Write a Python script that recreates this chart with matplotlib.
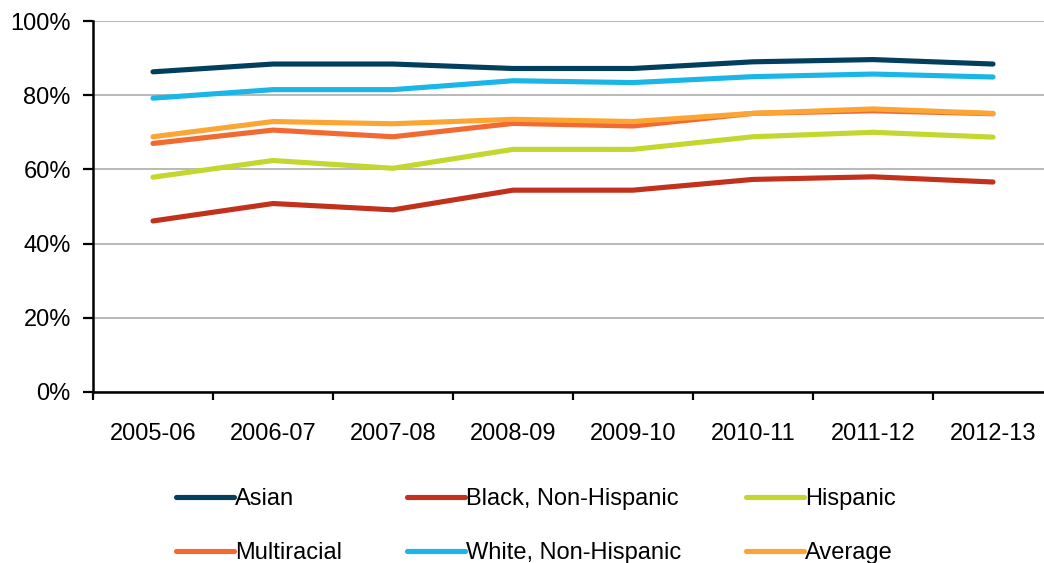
import matplotlib
matplotlib.use("Agg")
import matplotlib.pyplot as plt
from matplotlib.ticker import FixedLocator, FuncFormatter

years = ["2005-06", "2006-07", "2007-08", "2008-09", "2009-10", "2010-11", "2011-12", "2012-13"]
asian = [86.3, 88.4, 88.4, 87.2, 87.2, 89.0, 89.6, 88.4]
black = [46.1, 50.8, 49.1, 54.4, 54.4, 57.3, 58.0, 56.6]
hispanic = [57.9, 62.4, 60.3, 65.4, 65.4, 68.8, 70.0, 68.7]
multiracial = [67.0, 70.6, 68.8, 72.4, 71.7, 75.1, 75.8, 75.0]
white = [79.2, 81.5, 81.5, 83.9, 83.4, 85.0, 85.7, 84.9]
average = [68.8, 72.9, 72.3, 73.5, 72.9, 75.1, 76.3, 75.1]

series = [
    ("Asian", asian, "#023f5e"),
    ("Black, Non-Hispanic", black, "#c2311b"),
    ("Hispanic", hispanic, "#c3d72f"),
    ("Multiracial", multiracial, "#f26932"),
    ("White, Non-Hispanic", white, "#1ab6e8"),
    ("Average", average, "#fba634"),
]

plt.rcParams['font.family'] = ['Liberation Sans', 'DejaVu Sans']
W, H = 1044, 563
FS = 17
fig = plt.figure(figsize=(W / 100, H / 100), dpi=100)
ax = fig.add_axes([93 / W, (H - 392) / H, 960 / W, 371 / H])

x = list(range(len(years)))
handles = {}
for name, vals, col in series:
    ln, = ax.plot(x, vals, color=col, lw=3.7, label=name, solid_capstyle='round',
                  solid_joinstyle='round', zorder=3)
    handles[name] = ln

ax.set_xlim(-0.5, len(years) - 0.5)
ax.set_ylim(0, 100)
ax.set_yticks([0, 20, 40, 60, 80, 100])
ax.yaxis.set_major_formatter(FuncFormatter(lambda v, p: f"{int(v)}%"))
ax.grid(axis='y', color='#a6a6a6', lw=1.1, zorder=0)
ax.set_axisbelow(True)

ax.set_xticks(x)
ax.set_xticklabels(years)
ax.xaxis.set_minor_locator(FixedLocator([i - 0.5 for i in range(len(years) + 1)]))
ax.tick_params(axis='x', which='major', length=0, pad=22, labelsize=FS)
ax.tick_params(axis='x', which='minor', length=6, width=1.6, direction='out', color='black')
ax.tick_params(axis='y', which='major', length=7, width=1.6, pad=9, labelsize=FS)

for s in ['top', 'right']:
    ax.spines[s].set_visible(False)
for s in ['left', 'bottom']:
    ax.spines[s].set_linewidth(1.8)
    ax.spines[s].set_color('black')

# legend is filled column by column: reorder so rows read as in the reference
order = ["Asian", "Multiracial", "Black, Non-Hispanic", "White, Non-Hispanic",
         "Hispanic", "Average"]
leg = ax.legend([handles[n] for n in order], order,
                loc='upper left', bbox_to_anchor=(176 / W, (H - 488) / H),
                bbox_transform=fig.transFigure, ncol=3, frameon=False,
                fontsize=FS, handlelength=2.45, handletextpad=0.05,
                columnspacing=2.75, labelspacing=1.37, borderpad=0, borderaxespad=0)
for line in leg.get_lines():
    line.set_linewidth(3.7)

fig.savefig("out.png", dpi=100)
